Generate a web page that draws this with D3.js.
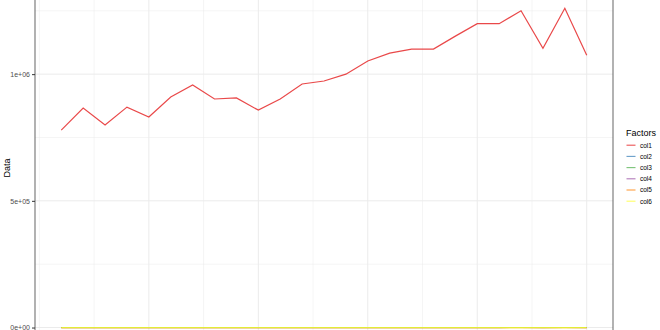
<!DOCTYPE html>
<html>
<head>
<meta charset="utf-8">
<script src="https://cdn.jsdelivr.net/npm/d3@7"></script>
<style>
  html, body { margin: 0; padding: 0; overflow: hidden; background: #fff; }
  svg { display: block; }
</style>
</head>
<body>
<div id="chart"></div>
<script>
var years = d3.range(1996, 2021);
var factors = ["col1", "col2", "col3", "col4", "col5", "col6"];
var colors = ["#E41A1C", "#377EB8", "#4DAF4A", "#984EA3", "#FF7F00", "#FFFF33"];

var col1 = [779000, 866000, 799000, 870000, 831000, 910000, 957000, 902000, 906000, 858000,
            902000, 961000, 973000, 1000000, 1052000, 1083000, 1099000, 1099000, 1150000, 1199000,
            1199000, 1250000, 1102000, 1260000, 1075000];
var col2 = [120, 125, 118, 130, 126, 132, 135, 131, 133, 129,
            134, 138, 140, 142, 145, 148, 150, 151, 154, 157,
            158, 162, 150, 164, 148];
var col3 = [80, 82, 79, 84, 83, 86, 88, 85, 86, 84,
            87, 89, 90, 92, 94, 96, 97, 98, 100, 102,
            103, 105, 98, 106, 96];
var col4 = [40, 41, 39, 42, 41, 43, 44, 42, 43, 42,
            43, 44, 45, 46, 47, 48, 48, 49, 50, 51,
            51, 52, 49, 53, 48];
var col5 = [15, 15, 14, 16, 15, 16, 16, 16, 16, 15,
            16, 17, 17, 17, 18, 18, 18, 18, 19, 19,
            19, 20, 18, 20, 18];
var col6 = [6, 6, 5, 6, 6, 6, 7, 6, 6, 6,
            6, 7, 7, 7, 7, 7, 7, 7, 8, 8,
            8, 8, 7, 8, 7];

var yMajor = [0, 500000, 1000000];
var yLabels = ["0e+00", "5e+05", "1e+06"];
var yMinor = [250000, 750000, 1250000];
var xMajor = [2000, 2005, 2010, 2015, 2020];
var xMinor = [1995, 1997.5, 2002.5, 2007.5, 2012.5, 2017.5];

var series = [col1, col2, col3, col4, col5, col6];
var drawOrder = [0, 1, 3, 4, 2, 5];

var w = 660, h = 330;
var panel = { left: 35, right: 613, top: -7.7, bottom: 343.5 };

var svg = d3.select("#chart").append("svg")
  .attr("width", w)
  .attr("height", h);

// ggplot-like 5% expansion
var xr = d3.extent(years);
var xpad = (xr[1] - xr[0]) * 0.05;
var x = d3.scaleLinear()
  .domain([xr[0] - xpad, xr[1] + xpad])
  .range([panel.left, panel.right]);

var allVals = d3.merge(series);
var yr = d3.extent(allVals);
var ypad = (yr[1] - yr[0]) * 0.05;
var y = d3.scaleLinear()
  .domain([yr[0] - ypad, yr[1] + ypad])
  .range([panel.bottom, panel.top]);

var grid = svg.append("g");

grid.selectAll(".ymin").data(yMinor).enter().append("line")
  .attr("x1", panel.left).attr("x2", panel.right)
  .attr("y1", d => y(d)).attr("y2", d => y(d))
  .style("stroke", "#ebebeb").style("stroke-width", 0.5);
grid.selectAll(".xmin").data(xMinor).enter().append("line")
  .attr("y1", panel.top).attr("y2", panel.bottom)
  .attr("x1", d => x(d)).attr("x2", d => x(d))
  .style("stroke", "#ebebeb").style("stroke-width", 0.5);
grid.selectAll(".ymaj").data(yMajor).enter().append("line")
  .attr("x1", panel.left).attr("x2", panel.right)
  .attr("y1", d => y(d)).attr("y2", d => y(d))
  .style("stroke", "#ebebeb").style("stroke-width", 1);
grid.selectAll(".xmaj").data(xMajor).enter().append("line")
  .attr("y1", panel.top).attr("y2", panel.bottom)
  .attr("x1", d => x(d)).attr("x2", d => x(d))
  .style("stroke", "#ebebeb").style("stroke-width", 1);

var line = d3.line()
  .x((d, i) => x(years[i]))
  .y(d => y(d));

svg.append("g").selectAll("path")
  .data(drawOrder)
  .enter().append("path")
  .attr("d", k => line(series[k]))
  .style("fill", "none")
  .style("stroke", k => colors[k])
  .style("stroke-opacity", 0.8)
  .style("stroke-width", 1.2);

// panel border
svg.append("rect")
  .attr("x", panel.left).attr("y", panel.top)
  .attr("width", panel.right - panel.left)
  .attr("height", panel.bottom - panel.top)
  .style("fill", "none")
  .style("stroke", "#555")
  .style("stroke-width", 0.9);

// y axis
var yAxis = d3.axisLeft(y)
  .tickValues(yMajor)
  .tickSize(3)
  .tickPadding(2)
  .tickFormat((d, i) => yLabels[i]);

var ga = svg.append("g")
  .attr("transform", "translate(" + panel.left + ",0)")
  .call(yAxis);
ga.select(".domain").remove();
ga.selectAll("line").style("stroke", "#333");
ga.selectAll("text")
  .style("font-family", "'Liberation Sans', Arial, sans-serif")
  .style("font-size", "7px")
  .style("fill", "#4d4d4d");

svg.append("text")
  .attr("transform", "translate(10," + ((panel.top + panel.bottom) / 2) + ") rotate(-90)")
  .attr("text-anchor", "middle")
  .style("font-family", "'Liberation Sans', Arial, sans-serif")
  .style("font-size", "9px")
  .style("fill", "#000")
  .text("Data");

// legend
var lg = svg.append("g").attr("transform", "translate(626,0)");
lg.append("text")
  .attr("x", 0).attr("y", 136)
  .style("font-family", "'Liberation Sans', Arial, sans-serif")
  .style("font-size", "9px")
  .style("fill", "#000")
  .text("Factors");

var item = lg.selectAll(".item").data(factors).enter().append("g")
  .attr("transform", (d, i) => "translate(0," + (145.2 + i * 11.2) + ")");
item.append("line")
  .attr("x1", 0.5).attr("x2", 9.5)
  .style("stroke", (d, i) => colors[i])
  .style("stroke-opacity", 0.75)
  .style("stroke-width", 1.1);
item.append("text")
  .attr("x", 14).attr("y", 2.4)
  .style("font-family", "'Liberation Sans', Arial, sans-serif")
  .style("font-size", "6.5px")
  .style("fill", "#000")
  .text(d => d);
</script>
</body>
</html>
